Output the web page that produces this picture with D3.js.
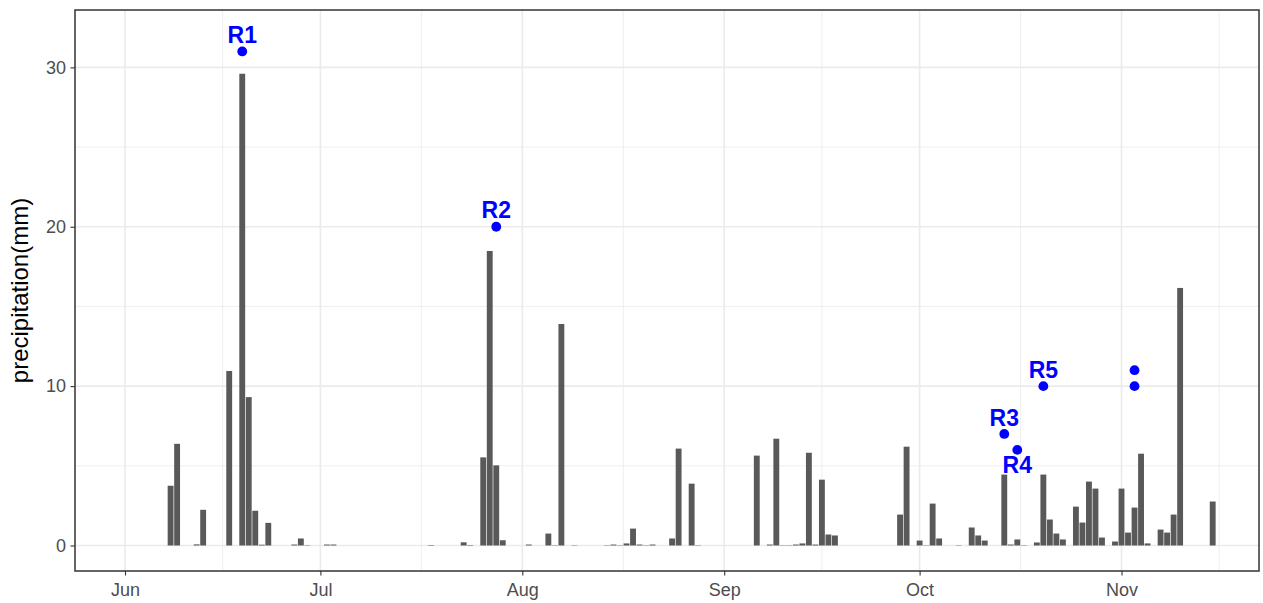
<!DOCTYPE html>
<html>
<head>
<meta charset="utf-8">
<script src="https://cdn.jsdelivr.net/npm/d3@7"></script>
<style>
  html, body { margin: 0; padding: 0; background: #ffffff; }
  svg { display: block; font-family: "Liberation Sans", Arial, Helvetica, sans-serif; }
</style>
</head>
<body>
<svg id="chart" width="1263" height="603"></svg>
<script>
// ---------- data ----------
const barDates = [
  "2019-06-08","2019-06-09","2019-06-12","2019-06-13","2019-06-17","2019-06-19","2019-06-20",
  "2019-06-21","2019-06-22","2019-06-23","2019-06-27","2019-06-28","2019-06-29","2019-07-02",
  "2019-07-03","2019-07-18","2019-07-23","2019-07-24","2019-07-26","2019-07-27","2019-07-28",
  "2019-07-29","2019-08-02","2019-08-05","2019-08-06","2019-08-07","2019-08-09","2019-08-14",
  "2019-08-15","2019-08-16","2019-08-17","2019-08-18","2019-08-19","2019-08-20","2019-08-21",
  "2019-08-24","2019-08-25","2019-08-27","2019-08-28","2019-09-06","2019-09-08","2019-09-09",
  "2019-09-10","2019-09-11","2019-09-12","2019-09-13","2019-09-14","2019-09-15","2019-09-16",
  "2019-09-17","2019-09-18","2019-09-28","2019-09-29","2019-10-01","2019-10-02","2019-10-03",
  "2019-10-04","2019-10-07","2019-10-09","2019-10-10","2019-10-11","2019-10-14","2019-10-15",
  "2019-10-16","2019-10-17","2019-10-19","2019-10-20","2019-10-21","2019-10-22","2019-10-23",
  "2019-10-25","2019-10-26","2019-10-27","2019-10-28","2019-10-29","2019-10-31","2019-11-01",
  "2019-11-02","2019-11-03","2019-11-04","2019-11-05","2019-11-07","2019-11-08","2019-11-09",
  "2019-11-10","2019-11-15"
];
const precipitation = [
  3.75, 6.38, 0.07, 2.24, 10.95, 29.6, 9.31,
  2.18, 0.05, 1.42, 0.06, 0.44, 0.02, 0.06,
  0.06, 0.03, 0.2, 0.03, 5.53, 18.48, 5.03,
  0.33, 0.06, 0.75, 0.02, 13.9, 0.02, 0.02,
  0.06, 0.02, 0.13, 1.06, 0.06, 0.02, 0.06,
  0.44, 6.08, 3.88, 0.02, 5.64, 0.06, 6.70,
  0.02, 0.02, 0.06, 0.13, 5.82, 0.06, 4.13,
  0.69, 0.63, 1.94, 6.2, 0.31, 0.02, 2.63,
  0.44, 0.02, 1.13, 0.63, 0.31, 4.45, 0.06,
  0.38, 0.02, 0.19, 4.45, 1.63, 0.75, 0.38,
  2.44, 1.44, 4.01, 3.57, 0.5, 0.25, 3.57,
  0.81, 2.38, 5.76, 0.13, 1.0, 0.81, 1.94,
  16.16, 2.76
];
const pointDates  = ["2019-06-19","2019-07-28","2019-10-14","2019-10-16","2019-10-20","2019-11-03","2019-11-03"];
const pointValues = [31, 20, 7, 6, 10, 11, 10];
const labelDates  = ["2019-06-19","2019-07-28","2019-10-14","2019-10-16","2019-10-20"];
const labelValues = [32, 21, 8, 5, 11];
const labelTexts  = ["R1","R2","R3","R4","R5"];
const yTicks = [0, 10, 20, 30];
const yMinorTicks = [5, 15, 25];
const yLabel = "precipitation(mm)";

// ---------- layout ----------
const svg = d3.select("#chart");
const panel = { left: 75, right: 1259, top: 10, bottom: 571 };
const parse = d3.utcParse("%Y-%m-%d");

const x = d3.scaleUtc()
  .domain([new Date(Date.UTC(2019, 4, 24, 7, 45)), new Date(Date.UTC(2019, 10, 22, 2, 38))])
  .range([panel.left, panel.right]);
const y = d3.scaleLinear().domain([-1.6, 33.6]).range([panel.bottom, panel.top]);

const monthTicks = d3.utcMonth.range(d3.utcMonth.ceil(x.domain()[0]), x.domain()[1]);
// minor breaks midway between month breaks (ggplot style)
const allMonths = d3.utcMonth.range(d3.utcMonth.floor(x.domain()[0]), d3.utcMonth.offset(x.domain()[1], 1));
const xMinor = [];
for (let i = 0; i < allMonths.length - 1; i++) {
  const m = new Date((+allMonths[i] + +allMonths[i + 1]) / 2);
  if (m >= x.domain()[0] && m <= x.domain()[1]) xMinor.push(m);
}

const grid = svg.append("g");
// minor grid
grid.selectAll("line.ymin").data(yMinorTicks).join("line")
  .attr("x1", panel.left).attr("x2", panel.right)
  .attr("y1", d => y(d)).attr("y2", d => y(d))
  .attr("stroke", "#ebebeb").attr("stroke-width", 0.8);
grid.selectAll("line.xmin").data(xMinor).join("line")
  .attr("y1", panel.top).attr("y2", panel.bottom)
  .attr("x1", d => x(d)).attr("x2", d => x(d))
  .attr("stroke", "#ebebeb").attr("stroke-width", 0.8);
// major grid
grid.selectAll("line.ymaj").data(yTicks).join("line")
  .attr("x1", panel.left).attr("x2", panel.right)
  .attr("y1", d => y(d)).attr("y2", d => y(d))
  .attr("stroke", "#ebebeb").attr("stroke-width", 1.6);
grid.selectAll("line.xmaj").data(monthTicks).join("line")
  .attr("y1", panel.top).attr("y2", panel.bottom)
  .attr("x1", d => x(d)).attr("x2", d => x(d))
  .attr("stroke", "#ebebeb").attr("stroke-width", 1.6);

// bars
const dayPx = x(parse("2019-06-02")) - x(parse("2019-06-01"));
const bw = dayPx * 0.9;
svg.append("g").selectAll("rect").data(barDates.map((d, i) => ({ date: parse(d), v: precipitation[i] })))
  .join("rect")
  .attr("x", d => x(d.date) - bw / 2)
  .attr("width", bw)
  .attr("y", d => y(Math.max(d.v, 0)))
  .attr("height", d => Math.abs(y(0) - y(d.v)))
  .attr("fill", "#595959");

// points
svg.append("g").selectAll("circle").data(pointDates.map((d, i) => ({ date: parse(d), v: pointValues[i] })))
  .join("circle")
  .attr("cx", d => x(d.date)).attr("cy", d => y(d.v))
  .attr("r", 4.9).attr("fill", "#0000ff");

// labels
svg.append("g").selectAll("text").data(labelDates.map((d, i) => ({ date: parse(d), v: labelValues[i], t: labelTexts[i] })))
  .join("text")
  .attr("x", d => x(d.date)).attr("y", d => y(d.v))
  .attr("dy", "0.33em")
  .attr("text-anchor", "middle")
  .attr("font-size", "23px").attr("font-weight", "bold")
  .attr("fill", "#0000ff")
  .text(d => d.t);

// panel border
svg.append("rect")
  .attr("x", panel.left).attr("y", panel.top)
  .attr("width", panel.right - panel.left).attr("height", panel.bottom - panel.top)
  .attr("fill", "none").attr("stroke", "#333333").attr("stroke-width", 1.5);

// axes
const xAxis = d3.axisBottom(x).tickValues(monthTicks).tickFormat(d3.utcFormat("%b")).tickSize(4.5).tickPadding(8);
const yAxis = d3.axisLeft(y).tickValues(yTicks).tickSize(4.5).tickPadding(4.5);

const gx = svg.append("g").attr("transform", `translate(0,${panel.bottom})`).call(xAxis);
const gy = svg.append("g").attr("transform", `translate(${panel.left},0)`).call(yAxis);
[gx, gy].forEach(g => {
  g.select(".domain").remove();
  g.selectAll(".tick line").attr("stroke", "#333333").attr("stroke-width", 1.1);
  g.selectAll(".tick text").attr("fill", "#4d4d4d").attr("font-size", "18px")
    .attr("font-family", "'Liberation Sans', Arial, Helvetica, sans-serif");
});

// y axis title
svg.append("text")
  .attr("transform", `translate(27.5,${(panel.top + panel.bottom) / 2}) rotate(-90)`)
  .attr("text-anchor", "middle")
  .attr("font-size", "24px").attr("fill", "#000000")
  .text(yLabel);
</script>
</body>
</html>
